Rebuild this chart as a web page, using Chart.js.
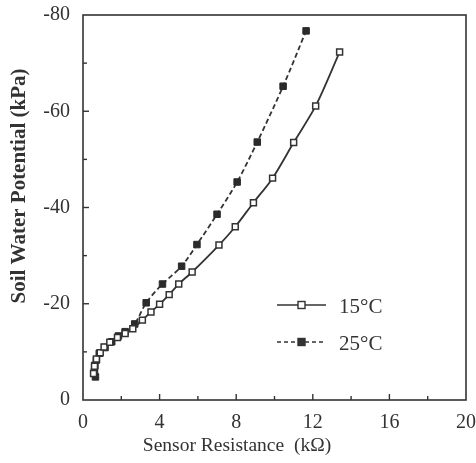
<!DOCTYPE html>
<html><head><meta charset="utf-8">
<script src="https://cdn.jsdelivr.net/npm/chart.js@4"></script>
<style>html,body{margin:0;padding:0;background:#fff}canvas{display:block}</style>
</head><body>
<canvas id="c" width="476" height="463"></canvas>
<script>
// ---- data ----
const seriesLabels = ['15°C', '25°C'];
const resistance15 = [0.55, 0.6, 0.7, 0.9, 1.1, 1.4, 1.8, 2.2, 2.6, 3.1, 3.55, 4.0, 4.5, 5.0, 5.7, 7.1, 7.95, 8.9, 9.9, 11.0, 12.15, 13.4];
const potential15  = [-5.5, -7, -8.5, -9.8, -11, -12, -13, -13.8, -14.8, -16.6, -18.3, -19.9, -21.9, -24.1, -26.6, -32.2, -36, -41, -46.1, -53.5, -61.1, -72.3];
const resistance25 = [0.65, 0.6, 0.62, 0.7, 0.85, 1.15, 1.5, 1.85, 2.2, 2.7, 3.3, 4.15, 5.15, 5.95, 7.0, 8.05, 9.1, 10.45, 11.65];
const potential25  = [-4.8, -6, -7.2, -8.3, -9.7, -10.9, -12.1, -13.3, -14.2, -15.8, -20.2, -24.1, -27.8, -32.3, -38.6, -45.3, -53.6, -65.2, -76.7];
const xTicks = [0, 4, 8, 12, 16, 20];
const yTicks = [0, -20, -40, -60, -80];
const xTitle = 'Sensor Resistance  (kΩ)';
const yTitle = 'Soil Water Potential (kPa)';

const INK = '#333';
const SERIF = '"Liberation Serif", "DejaVu Serif", serif';

const pts = (xs, ys) => xs.map((x, i) => ({x, y: ys[i]}));

const frameTicks = {
  id: 'frameTicks',
  afterDraw(chart) {
    const {ctx, chartArea: a, scales: {x, y}} = chart;
    ctx.save();
    ctx.strokeStyle = INK;
    ctx.lineWidth = 1.6;
    ctx.strokeRect(a.left, a.top, a.right - a.left, a.bottom - a.top);
    ctx.lineWidth = 1.4;
    for (let v = 2; v < 20; v += 2) {
      const px = x.getPixelForValue(v);
      const len = (v % 4 === 0) ? 6 : 4;
      ctx.beginPath(); ctx.moveTo(px, a.bottom); ctx.lineTo(px, a.bottom - len); ctx.stroke();
    }
    for (let v = -10; v > -80; v -= 10) {
      const py = y.getPixelForValue(v);
      const len = (v % 20 === 0) ? 6 : 4;
      ctx.beginPath(); ctx.moveTo(a.left, py); ctx.lineTo(a.left + len, py); ctx.stroke();
    }
    // axis titles
    ctx.fillStyle = INK;
    ctx.textAlign = 'center';
    ctx.textBaseline = 'middle';
    ctx.font = '19.5px ' + SERIF;
    ctx.fillText(xTitle, 237, 446);
    ctx.save();
    ctx.translate(20, 186);
    ctx.rotate(-Math.PI / 2);
    ctx.font = 'bold 21px ' + SERIF;
    ctx.fillText(yTitle, 0, 0);
    ctx.restore();
    // legend
    const rows = [{y: 305, dash: [], fill: '#fff', label: seriesLabels[0]},
                  {y: 342, dash: [4, 3], fill: INK, label: seriesLabels[1]}];
    rows.forEach(r => {
      ctx.setLineDash(r.dash);
      ctx.lineWidth = 1.7;
      ctx.strokeStyle = INK;
      ctx.beginPath(); ctx.moveTo(277, r.y); ctx.lineTo(326, r.y); ctx.stroke();
      ctx.setLineDash([]);
      ctx.fillStyle = r.fill;
      ctx.fillRect(298, r.y - 3.5, 7, 7);
      ctx.lineWidth = 1.4;
      ctx.strokeRect(298, r.y - 3.5, 7, 7);
      ctx.fillStyle = INK;
      ctx.font = '21px ' + SERIF;
      ctx.textBaseline = 'middle';
      ctx.textAlign = 'left';
      ctx.fillText(r.label, 339, r.y + 2);
    });
    ctx.restore();
  }
};

new Chart(document.getElementById('c'), {
  type: 'scatter',
  data: {
    datasets: [
      {
        label: seriesLabels[0],
        data: pts(resistance15, potential15),
        showLine: true,
        tension: 0.3,
        borderColor: INK,
        borderWidth: 1.8,
        pointStyle: 'rect',
        pointRadius: 4.2,
        pointBackgroundColor: '#fff',
        pointBorderColor: INK,
        pointBorderWidth: 1.5
      },
      {
        label: seriesLabels[1],
        data: pts(resistance25, potential25),
        showLine: true,
        tension: 0.3,
        borderColor: INK,
        borderWidth: 1.8,
        borderDash: [5, 3],
        pointStyle: 'rect',
        pointRadius: 4.6,
        pointBackgroundColor: '#2b2b2b',
        pointBorderColor: '#2b2b2b',
        pointBorderWidth: 1
      }
    ]
  },
  options: {
    responsive: false,
    animation: false,
    devicePixelRatio: 1,
    layout: {padding: {top: 15, right: 10, left: 0, bottom: 0}, autoPadding: false},
    plugins: {legend: {display: false}, tooltip: {enabled: false}},
    scales: {
      x: {
        type: 'linear', min: 0, max: 20,
        afterFit(s) { s.height = 63; s.paddingLeft = 0; s.paddingRight = 0; },
        afterBuildTicks(s) { s.ticks = xTicks.map(v => ({value: v})); },
        grid: {display: false, drawTicks: false},
        border: {display: false},
        ticks: {color: INK, font: {family: SERIF, size: 20}, padding: 11, maxRotation: 0},
        title: {display: false}
      },
      y: {
        type: 'linear', min: -80, max: 0, reverse: true,
        afterFit(s) { s.width = 83; s.paddingTop = 0; s.paddingBottom = 0; },
        afterBuildTicks(s) { s.ticks = yTicks.map(v => ({value: v})); },
        grid: {display: false, drawTicks: false},
        border: {display: false},
        ticks: {color: INK, font: {family: SERIF, size: 20}, padding: 13},
        title: {display: false}
      }
    }
  },
  plugins: [frameTicks]
});
</script>
</body></html>
